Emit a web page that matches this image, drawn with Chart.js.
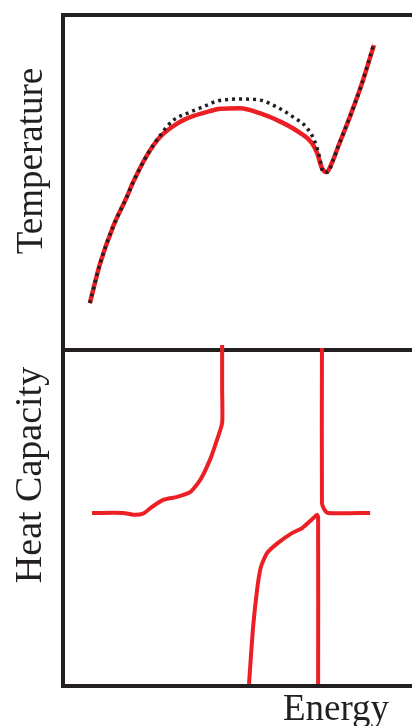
<!DOCTYPE html>
<html>
<head>
<meta charset="utf-8">
<script src="https://cdn.jsdelivr.net/npm/chart.js@4"></script>
<style>
  html, body { margin: 0; padding: 0; background: #fff; }
  #wrap { position: relative; width: 412px; height: 726px; overflow: hidden; }
  canvas { position: absolute; left: 0; }
  #tempChart { top: 0; }
  #heatChart { top: 330px; }
</style>
</head>
<body>
<div id="wrap">
  <canvas id="tempChart" width="412" height="352"></canvas>
  <canvas id="heatChart" width="412" height="396"></canvas>
</div>
<script>
// energy axis in arbitrary units (0 - 100)
const energyRed = [7.7, 10.6, 14.3, 18.3, 20.1, 24.1, 27.8, 32.7, 37.2, 42.1, 45.0, 50.7, 56.4, 63.0, 67.9, 71.3, 72.8, 74.2, 75.4, 77.4, 78.8, 82.2, 85.7, 89.1];
const tempRed = [14.0, 25.7, 36.7, 45.7, 50.1, 58.2, 63.6, 67.6, 69.8, 71.3, 72.0, 72.2, 70.7, 67.8, 64.8, 61.8, 58.8, 54.3, 53.1, 56.7, 60.6, 69.6, 79.7, 91.0];

const energyDot = [7.7, 10.6, 14.3, 18.3, 20.1, 24.1, 27.8, 31.5, 36.4, 41.3, 44.1, 50.7, 56.4, 61.3, 65.9, 69.9, 72.2, 73.6, 74.5, 75.9, 77.4, 78.8, 82.2, 85.7, 89.1];
const tempDot = [14.0, 25.7, 36.7, 45.7, 50.1, 58.2, 64.0, 68.5, 71.0, 73.1, 74.3, 74.9, 74.6, 72.5, 69.6, 66.3, 62.1, 57.3, 53.1, 53.1, 56.7, 60.6, 69.6, 79.7, 91.6];

// heat capacity branches
const energyC1 = [8.3, 17.2, 20.1, 22.9, 25.5, 28.7, 32.7, 36.4, 39.3, 42.1, 44.1, 45.6, 45.6, 45.6];
const heatC1 = [51.5, 51.5, 51.0, 51.3, 53.3, 55.4, 56.3, 57.7, 61.3, 67.3, 73.2, 78.3, 88.1, 101.5];

const energyC2 = [53.3, 54.4, 55.6, 56.7, 58.5, 61.6, 65.6, 68.5, 72.8, 73.1, 73.1];
const heatC2 = [0.6, 16.7, 28.6, 35.4, 39.6, 42.6, 45.5, 47.0, 50.9, 50.3, 0.6];

const energyC3 = [74.2, 74.2, 74.8, 75.9, 88.0];
const heatC3 = [100.6, 54.5, 52.7, 51.5, 51.5];

const RED = 'rgb(236, 32, 36)';
const INK = '#231f20';
const FONT_SIZE = 37;

const pts = (xs, ys) => xs.map((x, i) => ({ x: x, y: ys[i] }));

const axisStyle = (pos) => ({
    type: 'linear',
    position: pos,
    min: 0,
    max: 100,
    grid: { display: false, drawTicks: false },
    ticks: { display: false },
    border: { display: true, width: 4, color: INK }
});

const textPlugin = (labels) => ({
    id: 'labels',
    afterDraw(chart) {
        const ctx = chart.ctx;
        ctx.save();
        ctx.fillStyle = INK;
        ctx.textAlign = 'center';
        ctx.textBaseline = 'alphabetic';
        labels.forEach(l => {
            ctx.save();
            ctx.font = (l.size || FONT_SIZE) + 'px "Liberation Serif", "Times New Roman", serif';
            ctx.translate(l.x, l.y);
            ctx.rotate(l.rot);
            ctx.fillText(l.text, 0, 0);
            ctx.restore();
        });
        ctx.restore();
    }
});

new Chart(document.getElementById('tempChart'), {
    type: 'line',
    data: {
        datasets: [{
            data: pts(energyDot, tempDot),
            borderColor: INK,
            borderWidth: 3.5,
            borderDash: [3, 4],
            pointRadius: 0,
            cubicInterpolationMode: 'monotone',
            fill: false
        }, {
            data: pts(energyRed, tempRed),
            borderColor: RED,
            borderWidth: 4.5,
            pointRadius: 0,
            cubicInterpolationMode: 'monotone',
            fill: false
        }]
    },
    options: {
        responsive: false,
        animation: false,
        layout: { padding: { left: 63, top: 15, right: 0, bottom: 2 } },
        plugins: { legend: { display: false }, tooltip: { enabled: false } },
        scales: {
            x: axisStyle('bottom'),
            x2: axisStyle('top'),
            y: axisStyle('left')
        }
    },
    plugins: [textPlugin([{ text: 'Temperature', x: 42, y: 161, rot: -Math.PI / 2 }])]
});

new Chart(document.getElementById('heatChart'), {
    type: 'line',
    data: {
        datasets: [
            { data: pts(energyC1, heatC1) },
            { data: pts(energyC2, heatC2) },
            { data: pts(energyC3, heatC3) }
        ].map(d => Object.assign(d, {
            borderColor: RED,
            borderWidth: 4,
            pointRadius: 0,
            tension: 0.2,
            fill: false,
            clip: false
        }))
    },
    options: {
        responsive: false,
        animation: false,
        layout: { padding: { left: 63, top: 20, right: 0, bottom: 40 } },
        plugins: { legend: { display: false }, tooltip: { enabled: false } },
        scales: {
            x: axisStyle('bottom'),
            x2: axisStyle('top'),
            y: axisStyle('left')
        }
    },
    plugins: [textPlugin([
        { text: 'Heat Capacity', x: 41, y: 145, rot: -Math.PI / 2, size: 38 },
        { text: 'Energy', x: 336, y: 390, rot: 0 }
    ])]
});
</script>
</body>
</html>
